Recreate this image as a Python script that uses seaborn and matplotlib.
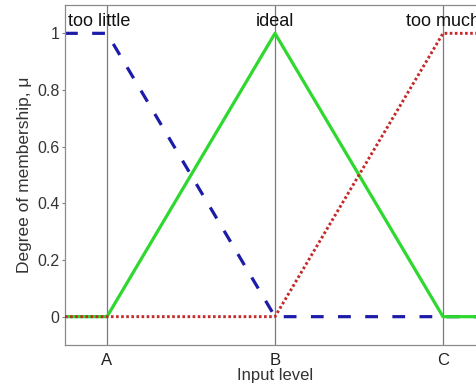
import matplotlib
matplotlib.use("Agg")
import matplotlib.pyplot as plt
import seaborn as sns

# membership function break points (A=0, B=1, C=2)
input_x = [-0.25, 0, 1, 2, 2.25]
too_little = [1, 1, 0, 0, 0]
ideal = [0, 0, 1, 0, 0]
too_much = [0, 0, 0, 1, 1]

level_pos = [0, 1, 2]
level_labels = ["A", "B", "C"]
set_names = ["too little", "ideal", "too much"]
y_ticks = [0, 0.2, 0.4, 0.6, 0.8, 1]

sns.set_theme(style="white")
plt.rcParams["font.family"] = ["Liberation Sans", "DejaVu Sans"]

fig, ax = plt.subplots(figsize=(4.76, 3.85), dpi=100)
ax.set_position([65 / 476, 40 / 385, 420 / 476, 340 / 385])

# grey guide lines at A, B, C
for p in level_pos:
    ax.axvline(p, color="#7a7a7a", lw=0.9, zorder=1)

sns.lineplot(x=input_x, y=too_little, ax=ax, color="#1c1ca8", lw=2.3,
             linestyle=(0, (4, 4.5)), zorder=2)
sns.lineplot(x=input_x, y=ideal, ax=ax, color="#2fd82f", lw=2.3, zorder=3)
sns.lineplot(x=input_x, y=too_much, ax=ax, color="#c42a2a", lw=2.1,
             linestyle=(0, (0.9, 0.85)), zorder=4)

ax.set_xlim(-0.25, 2.25)
ax.set_ylim(-0.1, 1.1)

ax.text(-0.235, 1.025, set_names[0], fontsize=13, ha="left", va="baseline", color="#111111")
ax.text(1, 1.025, set_names[1], fontsize=13, ha="center", va="baseline", color="#111111")
ax.text(2, 1.025, set_names[2], fontsize=13, ha="center", va="baseline", color="#111111")

ax.set_xticks(level_pos)
ax.set_xticklabels(level_labels)
ax.set_yticks(y_ticks)
ax.set_yticklabels(["0", "0.2", "0.4", "0.6", "0.8", "1"])
ax.tick_params(axis="x", length=0, pad=5.5, labelsize=12, labelcolor="#222222")
ax.tick_params(axis="y", left=True, direction="out", length=2.5, width=0.8,
               color="#808080", pad=1.5, labelsize=11.5, labelcolor="#333333")

ax.set_xlabel("Input level", fontsize=12, labelpad=0, color="#333333")
ax.set_ylabel("Degree of membership, \u03bc", fontsize=12.5, labelpad=4, color="#333333")

for side in ["left", "top", "bottom", "right"]:
    ax.spines[side].set_color("#8a8a8a")
    ax.spines[side].set_linewidth(0.9)

plt.savefig("out.png", dpi=100)
